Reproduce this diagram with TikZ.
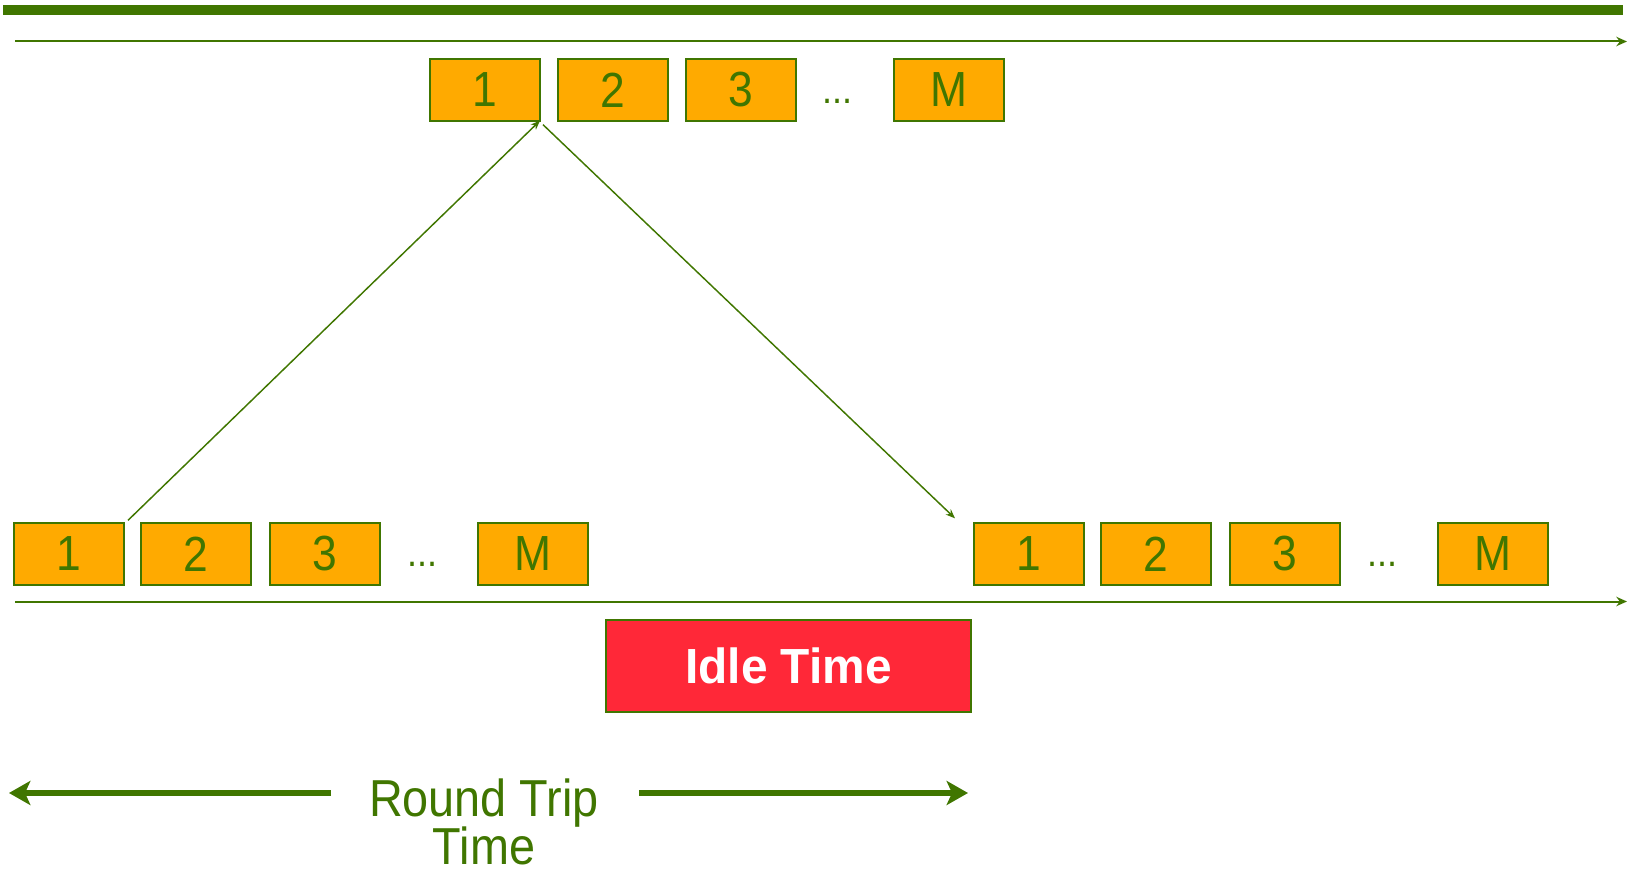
\documentclass[tikz,border=0pt]{standalone}
\usepackage{fontspec}
\usetikzlibrary{arrows.meta}
\newfontfamily\labfont[FakeStretch=0.9]{Liberation Sans}
\newfontfamily\idlefont[FakeStretch=0.97]{Liberation Sans Bold}
\definecolor{leaf}{RGB}{64,118,0}
\definecolor{amber}{RGB}{255,170,0}
\definecolor{alarm}{RGB}{255,40,56}
\begin{document}
\begin{tikzpicture}[x=0.75pt,y=-0.75pt,
  pkt/.style={draw=leaf,line width=1.5pt,fill=amber,minimum width=82.5pt,minimum height=46pt,
    inner sep=0pt,text=leaf,font=\labfont\fontsize{37}{40}\selectfont},
  gap/.style={text=leaf,inner sep=0pt,font=\labfont\fontsize{30}{34}\selectfont},
  timeline/.style={draw=leaf,line width=1.5pt,-{Stealth[length=8pt,width=7pt]}},
  hop/.style={draw=leaf,line width=1.1pt,-{Stealth[length=7pt,width=5.5pt]}},
  span/.style={draw=leaf,line width=5pt,-{Stealth[length=16pt,width=18pt,inset=4pt]}},
  rtt/.style={text=leaf,inner sep=0pt,anchor=base,font=\labfont\fontsize{39}{44}\selectfont}]
\useasboundingbox (0,0) rectangle (1629,873);

% header bar
\fill[leaf] (3,5) rectangle (1623,15);

% time axes
\coordinate (ta0) at (15,41.5);
\coordinate (ta1) at (1627,41.5);
\coordinate (ba0) at (15,601.5);
\coordinate (ba1) at (1627,601.5);
\draw[timeline] (ta0) -- (ta1);
\draw[timeline] (ba0) -- (ba1);

% upper row of packets
\node[pkt] (t1) at (485,90) {1};
\node[pkt] (t2) at (612.5,90) {2};
\node[pkt] (t3) at (740.5,90) {3};
\node[gap] (tg) at (837,101) {...};
\node[pkt] (tm) at (949,90) {M};

% lower left row of packets
\node[pkt] (l1) at (69,554) {1};
\node[pkt] (l2) at (196,554) {2};
\node[pkt] (l3) at (324.5,554) {3};
\node[gap] (lg) at (422,564) {...};
\node[pkt] (lm) at (533,554) {M};

% lower right row of packets
\node[pkt] (r1) at (1029,554) {1};
\node[pkt] (r2) at (1156,554) {2};
\node[pkt] (r3) at (1284.5,554) {3};
\node[gap] (rg) at (1382,564) {...};
\node[pkt] (rm) at (1493,554) {M};

% round trip of the first packet
\coordinate (up0) at ([shift={(3,-2)}]l1.north east);
\coordinate (up1) at ([shift={(-1,-1)}]t1.south east);
\coordinate (dn0) at ([shift={(2,3)}]t1.south east);
\coordinate (dn1) at ([shift={(-18,-4)}]r1.north west);
\draw[hop] (up0) -- (up1);
\draw[hop] (dn0) -- (dn1);

% idle period
\node[draw=leaf,line width=1.5pt,fill=alarm,minimum width=274pt,minimum height=69pt,inner sep=0pt,
  text=white,font=\idlefont\fontsize{37}{40}\selectfont] (idle) at (788.5,665.5) {Idle Time};

% round trip time span
\node[rtt] (rt1) at (484,816) {Round Trip};
\node[rtt] (rt2) at (484,864) {Time};
\coordinate (sl0) at (331,793);
\coordinate (sl1) at (9,793);
\coordinate (sr0) at (639,793);
\coordinate (sr1) at (968,793);
\draw[span] (sl0) -- (sl1);
\draw[span] (sr0) -- (sr1);
\end{tikzpicture}
\end{document}
